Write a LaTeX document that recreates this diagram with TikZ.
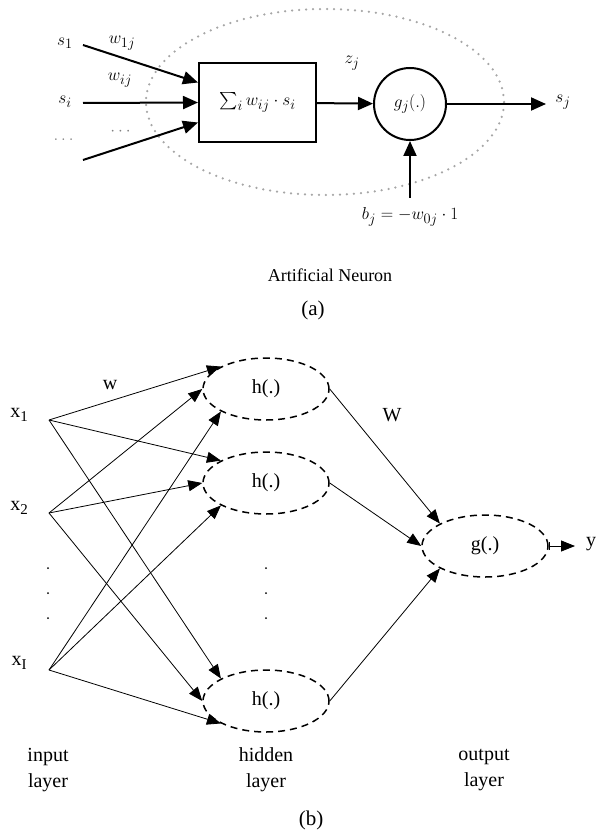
\documentclass[tikz,border=0pt]{standalone}
\usepackage{amsmath}
\usepackage{fontspec}
\setmainfont{Liberation Serif}
\usetikzlibrary{arrows.meta,shapes.geometric}

\tikzset{
  boldarrow/.style={line width=2pt,-{Triangle[length=15pt,width=13pt]}},
  thinarrow/.style={line width=0.8pt,-{Triangle[length=14pt,width=11pt]}},
  unit/.style={ellipse, draw=black, line width=1.5pt, dash pattern=on 7pt off 5pt,
    minimum width=126pt, minimum height=62pt, inner sep=0pt},
  sym/.style={font=\fontsize{19}{22}\selectfont},
  txt/.style={font=\fontsize{20}{26}\selectfont, align=center},
}
\newcommand\sub[1]{\raisebox{-0.5ex}{\fontsize{15}{15}\selectfont #1}}

\begin{document}
\begin{tikzpicture}[x=1pt,y=-1pt]
\useasboundingbox (0,0) rectangle (597,834);
% (a) artificial neuron
\draw [gray!70, line width=2.5pt, line cap=round, dash pattern=on 0pt off 7pt] (325,102) ellipse [x radius=179pt, y radius=93pt];
\node [draw=black, line width=2pt, minimum width=117pt, minimum height=79pt, sym] (sum) at (257.5,102.5) {$\sum_i w_{ij}\cdot s_i$};
\node [circle, draw=black, line width=2pt, minimum size=72pt, inner sep=0pt, sym] (act) at (410,104) {$g_j(.)$};
\coordinate (in1) at (83,45);
\coordinate (in2) at (83,103);
\coordinate (in3) at (83,160);
\coordinate (out) at (546,104);
\coordinate (biasin) at (410,198);
\draw [boldarrow] (in1) -- ([yshift=20pt]sum.west);
\draw [boldarrow] (in2) -- (sum.west);
\draw [boldarrow] (in3) -- ([yshift=-20pt]sum.west);
\draw [boldarrow] (sum) -- (act);
\draw [boldarrow] (act) -- (out);
\draw [boldarrow] (biasin) -- (act.south);
\node [sym] (s1) at (65,43) {$s_1$};
\node [sym] (w1j) at (122,43) {$w_{1j}$};
\node [sym] (wij) at (120,80) {$w_{ij}$};
\node [sym] (si) at (65,102) {$s_i$};
\node [sym, gray] (sdots) at (65,140) {$\dots$};
\node [sym, gray] (wdots) at (122,132) {$\cdots$};
\node [sym] (zj) at (352,63) {$z_j$};
\node [sym] (sj) at (563,102) {$s_j$};
\node [sym] (bias) at (410,217) {$b_j=-w_{0j}\cdot 1$};
\node [font=\fontsize{18}{22}\selectfont] (title) at (330,275) {Artificial Neuron};
\node [font=\fontsize{21}{25}\selectfont] (capa) at (313,310) {(a)};
% (b) network
\node [unit, txt] (h1) at (266,389) {h(.)};
\node [unit, txt] (h2) at (266,483) {h(.)};
\node [unit, txt] (h3) at (266,701) {h(.)};
\node [unit, txt] (g) at (485,546) {g(.)};
\node [txt] (x1) at (19,415) {x\sub{1}};
\node [txt] (x2) at (19,508) {x\sub{2}};
\node [txt] (xI) at (19,663) {x\sub{I}};
\coordinate (i1) at (49,420);
\coordinate (i2) at (49,513);
\coordinate (i3) at (49,670);
\foreach \i/\a in {i1/north west, i2/west, i3/south west}
  \foreach \h in {h1,h2,h3}
    \draw [thinarrow] (\i) -- (\h.\a);
\foreach \h/\a in {h1/north west, h2/west, h3/south west}
  \draw [thinarrow] (\h.east) -- (g.\a);
\coordinate (yend) at (575,546);
\draw [line width=0.8pt, {Bar[width=8pt]}-{Triangle[length=14pt,width=11pt]}] (g.east) -- (yend);
\node [txt] (y) at (591,544) {y};
\foreach \y in {568,593,618} {
  \fill (48,\y) circle [radius=1pt];
  \fill (266,\y) circle [radius=1pt];
}
\node [txt] (w) at (110,385) {w};
\node [txt] (W) at (392,415) {W};
\node [txt] (inl) at (48,770) {input\\layer};
\node [txt] (hidl) at (266,770) {hidden\\layer};
\node [txt] (outl) at (484,770) {output\\layer};
\node [font=\fontsize{21}{25}\selectfont] (capb) at (311,820) {(b)};
\end{tikzpicture}
\end{document}
